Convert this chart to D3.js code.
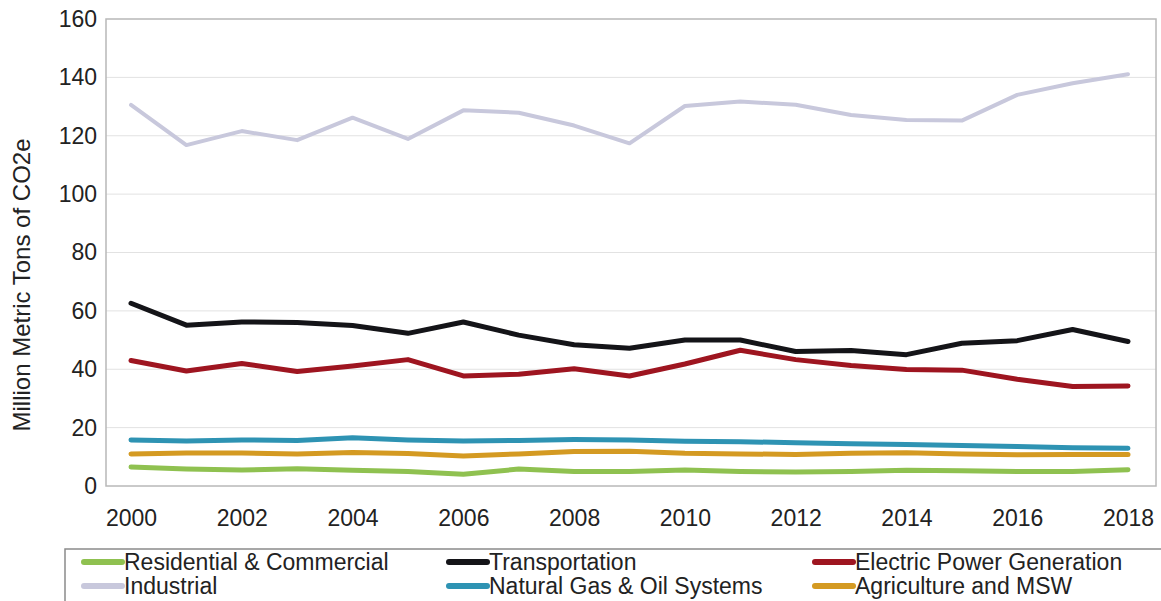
<!DOCTYPE html>
<html>
<head>
<meta charset="utf-8">
<script src="https://cdn.jsdelivr.net/npm/d3@7"></script>
<style>
  html, body { margin: 0; padding: 0; background: #fff; }
  svg { display: block; }
  text { font-family: "Liberation Sans", Arial, sans-serif; fill: #222; }
</style>
</head>
<body>
<svg id="chart" width="1161" height="601"></svg>
<script>
const years = [2000,2001,2002,2003,2004,2005,2006,2007,2008,2009,2010,2011,2012,2013,2014,2015,2016,2017,2018];
const xTickLabels = [2000,2002,2004,2006,2008,2010,2012,2014,2016,2018];
const yTickLabels = [0,20,40,60,80,100,120,140,160];

const residential  = [6.5,5.8,5.5,5.9,5.4,5.0,4.0,5.8,5.0,5.0,5.5,5.0,4.8,5.0,5.4,5.2,5.0,5.0,5.6];
const transportation = [62.6,55.1,56.2,56.0,55.0,52.3,56.2,51.7,48.4,47.2,50.0,50.0,46.1,46.4,45.0,48.9,49.8,53.6,49.5];
const electric     = [43.0,39.4,42.0,39.2,41.1,43.3,37.7,38.3,40.2,37.7,41.8,46.5,43.3,41.3,39.9,39.7,36.6,34.1,34.3];
const industrial   = [130.6,116.8,121.6,118.5,126.2,118.9,128.7,127.9,123.5,117.4,130.2,131.7,130.6,127.1,125.4,125.2,134.0,138.0,141.1];
const naturalGas   = [15.8,15.4,15.8,15.6,16.5,15.8,15.4,15.6,15.9,15.8,15.3,15.2,14.8,14.5,14.2,13.9,13.5,13.1,12.9];
const agriculture  = [11.0,11.3,11.3,11.0,11.5,11.1,10.3,11.0,11.8,11.9,11.2,11.0,10.8,11.2,11.4,11.0,10.7,10.8,10.8];

const seriesNames = ["Residential & Commercial","Transportation","Electric Power Generation","Industrial","Natural Gas & Oil Systems","Agriculture and MSW"];
const seriesValues = [residential, transportation, electric, industrial, naturalGas, agriculture];
const seriesColors = ["#8fc150","#141418","#9e1520","#c8c8dc","#2e93b3","#d49a22"];
const seriesWidths = [5,5,5,4,5,5];
const drawOrder = [3,1,2,4,5,0];

const svg = d3.select("#chart");
const frame = {left: 106, right: 1156, top: 19, bottom: 486};

const x = d3.scaleLinear().domain([2000, 2018]).range([131, 1128]);
const y = d3.scaleLinear().domain([0, 160]).range([frame.bottom, frame.top]);

// gridlines
svg.append("g").selectAll("line").data(yTickLabels.filter(d => d > 0 && d < 160)).join("line")
  .attr("x1", frame.left).attr("x2", frame.right)
  .attr("y1", d => y(d)).attr("y2", d => y(d))
  .attr("stroke", "#e2e2e2").attr("stroke-width", 1);

// frame
svg.append("rect")
  .attr("x", frame.left).attr("y", frame.top)
  .attr("width", frame.right - frame.left).attr("height", frame.bottom - frame.top)
  .attr("fill", "none").attr("stroke", "#b8b8b8").attr("stroke-width", 1.5);

// y axis
const yAxis = d3.axisLeft(y).tickValues(yTickLabels).tickSize(0).tickPadding(0).tickFormat(d3.format("d"));
const gy = svg.append("g").attr("transform", "translate(97,0)").call(yAxis);
gy.select(".domain").remove();
gy.selectAll("text").style("font-size", "23px").attr("fill", "#222")
  .style("font-family", "'Liberation Sans', Arial, sans-serif");

// x axis
const xAxis = d3.axisBottom(x).tickValues(xTickLabels).tickSize(0).tickPadding(0).tickFormat(d3.format("d"));
const gx = svg.append("g").attr("transform", "translate(0,510)").call(xAxis);
gx.select(".domain").remove();
gx.selectAll("text").style("font-size", "23px").attr("fill", "#222")
  .style("font-family", "'Liberation Sans', Arial, sans-serif");

// y title
svg.append("text")
  .attr("transform", "translate(30,285) rotate(-90)")
  .attr("text-anchor", "middle")
  .style("font-size", "24px")
  .text("Million Metric Tons of CO2e");

// lines
const line = d3.line().x((d, i) => x(years[i])).y(d => y(d)).curve(d3.curveLinear);
svg.append("g").selectAll("path").data(drawOrder).join("path")
  .attr("d", i => line(seriesValues[i]))
  .attr("fill", "none")
  .attr("stroke", i => seriesColors[i])
  .attr("stroke-width", i => seriesWidths[i])
  .attr("stroke-linejoin", "round")
  .attr("stroke-linecap", "round");

// legend
svg.append("rect").attr("x", 65).attr("y", 549).attr("width", 1120).attr("height", 70)
  .attr("fill", "#fff").attr("stroke", "#8a8a8a").attr("stroke-width", 1.5);

const legendCols = [84, 449, 815];
const legendRows = [562, 586];
const lg = svg.append("g").selectAll("g").data(seriesNames).join("g")
  .attr("transform", (d, i) => `translate(${legendCols[i % 3]},${legendRows[Math.floor(i / 3)]})`);
lg.append("line").attr("x1", 0).attr("x2", 38).attr("y1", 0).attr("y2", 0)
  .attr("stroke", (d, i) => seriesColors[i]).attr("stroke-width", 6).attr("stroke-linecap", "round");
lg.append("text").attr("x", 40).attr("y", 0).attr("dy", "0.35em")
  .style("font-size", "23px").text(d => d);
</script>
</body>
</html>
